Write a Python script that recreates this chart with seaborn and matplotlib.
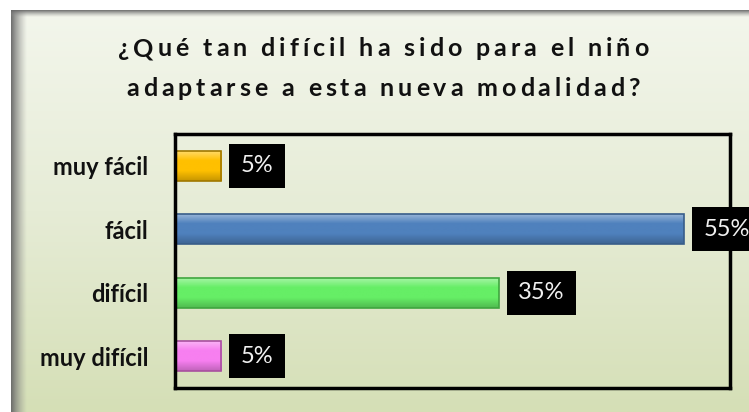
import numpy as np
import pandas as pd
import seaborn as sns
import matplotlib.pyplot as plt
from matplotlib.colors import LinearSegmentedColormap, to_rgb

categories = ["muy fácil", "fácil", "difícil", "muy difícil"]
percentages = [5, 55, 35, 5]
labels = ["5%", "55%", "35%", "5%"]
bar_colors = ["#ffc000", "#4f81bd", "#66ee66", "#f77ff0"]
edge_colors = ["#a07800", "#385d8a", "#3fa63f", "#a8509f"]
title_lines = ["¿Qué tan difícil ha sido para el niño", "adaptarse a esta nueva modalidad?"]

df = pd.DataFrame({"categoria": categories, "valor": percentages})

W, H = 749, 412
fig = plt.figure(figsize=(W / 100, H / 100), dpi=100)
fig.patch.set_facecolor("white")

# chart background (green gradient) with shadowed top/left border
bg = fig.add_axes([11 / W, 0, 1 - 11 / W, 1 - 10 / H])
grad = np.linspace(0, 1, 256).reshape(-1, 1)
green = LinearSegmentedColormap.from_list("g", ["#f3f6ec", "#e6ecd6", "#d5dfb6"])
bg.imshow(grad, aspect="auto", cmap=green, extent=[0, 1, 0, 1], origin="upper")
shade = LinearSegmentedColormap.from_list("s", [(0.4, 0.4, 0.4, 0.95), (0.6, 0.6, 0.6, 0.0)])
bg.imshow(np.linspace(0, 1, 64).reshape(1, -1), aspect="auto", cmap=shade,
          extent=[0, 16 / (W - 11), 0, 1])
bg.imshow(np.linspace(0, 1, 64).reshape(-1, 1), aspect="auto", cmap=shade,
          extent=[0, 1, 1 - 7 / (H - 10), 1], origin="upper")
bg.set_xlim(0, 1)
bg.set_ylim(0, 1)
bg.axis("off")

ax = fig.add_axes([175 / W, 1 - 388 / H, (730 - 175) / W, (388 - 134) / H])
ax.set_facecolor("none")
sns.barplot(data=df, x="valor", y="categoria", hue="categoria", palette=bar_colors,
            order=categories, hue_order=categories, width=0.48, saturation=1,
            legend=False, ax=ax)

# bevel-ish shading on each bar
for patch, col, ec in zip(ax.patches, bar_colors, edge_colors):
    patch.set_edgecolor(ec)
    patch.set_linewidth(1.2)
    base = np.array(to_rgb(col))
    light = base + (1 - base) * 0.45
    dark = base * 0.78
    cm = LinearSegmentedColormap.from_list("b", [light, base, base, dark])
    x0, y0 = patch.get_x(), patch.get_y()
    w, h = patch.get_width(), patch.get_height()
    im = ax.imshow(np.linspace(0, 1, 64).reshape(-1, 1), aspect="auto", cmap=cm,
                   extent=[x0, x0 + w, y0 + h, y0], origin="upper", zorder=patch.get_zorder())
    im.set_clip_path(patch)
    patch.set_facecolor("none")
    patch.set_zorder(patch.get_zorder() + 0.1)

for i, (v, lab) in enumerate(zip(percentages, labels)):
    ax.annotate(lab, xy=(v, i), xytext=(14, 0), textcoords="offset points",
                ha="left", va="center", fontsize=17, color="#f0f0f0", family="Lato",
                bbox=dict(boxstyle="square,pad=0.49", facecolor="black", edgecolor="none"),
                annotation_clip=False)

ax.set_xlim(0, 60)
ax.set_ylim(3.5, -0.5)
ax.set_xticks([])
ax.set_xlabel("")
ax.set_ylabel("")
ax.tick_params(axis="y", length=0, pad=19)
for t in ax.get_yticklabels():
    t.set_fontsize(17)
    t.set_fontweight("bold")
    t.set_family("Lato")
    t.set_color("#111111")
for s in ax.spines.values():
    s.set_visible(True)
    s.set_color("black")
    s.set_linewidth(2.5)

# title with wide letter spacing, drawn char by char
renderer = fig.canvas.get_renderer()
tkw = dict(fontsize=18, fontweight="bold", family="Lato", color="#111111")


def adv(ch):
    a = fig.text(0, 0, "H" + ch + "H", **tkw)
    b = fig.text(0, 0, "HH", **tkw)
    w = a.get_window_extent(renderer).width - b.get_window_extent(renderer).width
    a.remove()
    b.remove()
    return w


tracking = 3.9
for line, yc in zip(title_lines, [49, 88]):
    widths = [adv(c) + tracking for c in line]
    total = sum(widths) - tracking
    x = 383 - total / 2
    for c, w in zip(line, widths):
        fig.text(x / W, 1 - yc / H, c, ha="left", va="center", **tkw)
        x += w

fig.savefig("out.png", dpi=100)
